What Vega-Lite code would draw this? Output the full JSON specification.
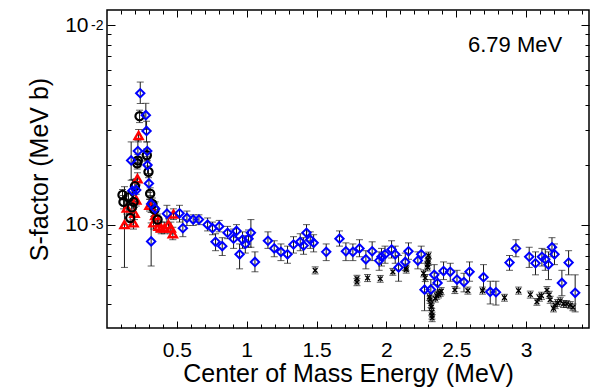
{
  "$schema": "https://vega.github.io/schema/vega-lite/v6.json",
  "width": 482,
  "height": 318,
  "autosize": {"type": "none"},
  "padding": {"left": 107, "top": 10, "right": 11, "bottom": 64},
  "background": "white",
  "config": {
    "view": {"stroke": "black", "strokeWidth": 1.5},
    "axis": {
      "grid": false, "domain": false,
      "labelFont": "Liberation Sans", "titleFont": "Liberation Sans",
      "labelColor": "black", "titleColor": "black", "tickColor": "black",
      "labelFontSize": 21, "titleFontSize": 25, "titleFontWeight": "normal",
      "tickWidth": 1
    }
  },
  "datasets": {
    "d": [
      {"s":"x","x":1.49,"y":5.9e-4,"lo":5.66e-4,"hi":6.14e-4},
      {"s":"x","x":1.789,"y":5.36e-4,"lo":5.15e-4,"hi":5.57e-4},
      {"s":"x","x":1.789,"y":5.15e-4,"lo":4.94e-4,"hi":5.36e-4},
      {"s":"x","x":1.865,"y":5.4e-4,"lo":5.18e-4,"hi":5.62e-4},
      {"s":"x","x":1.956,"y":5.35e-4,"lo":5.14e-4,"hi":5.56e-4},
      {"s":"x","x":2.046,"y":5.8e-4,"lo":5.57e-4,"hi":6.03e-4},
      {"s":"x","x":2.141,"y":6.1e-4,"lo":5.86e-4,"hi":6.34e-4},
      {"s":"x","x":2.142,"y":5.95e-4,"lo":5.71e-4,"hi":6.19e-4},
      {"s":"x","x":2.266,"y":5.7e-4,"lo":5.47e-4,"hi":5.93e-4},
      {"s":"x","x":2.278,"y":5.4e-4,"lo":5.18e-4,"hi":5.62e-4},
      {"s":"x","x":2.294,"y":6.3e-4,"lo":6.05e-4,"hi":6.55e-4},
      {"s":"x","x":2.297,"y":6.7e-4,"lo":6.43e-4,"hi":6.97e-4},
      {"s":"x","x":2.301,"y":7.0e-4,"lo":6.72e-4,"hi":7.28e-4},
      {"s":"x","x":2.299,"y":6.5e-4,"lo":6.24e-4,"hi":6.76e-4},
      {"s":"x","x":2.295,"y":6.1e-4,"lo":5.86e-4,"hi":6.34e-4},
      {"s":"x","x":2.308,"y":4.34e-4,"lo":4.17e-4,"hi":4.51e-4},
      {"s":"x","x":2.313,"y":4.2e-4,"lo":4.03e-4,"hi":4.37e-4},
      {"s":"x","x":2.319,"y":4.0e-4,"lo":3.84e-4,"hi":4.16e-4},
      {"s":"x","x":2.322,"y":3.86e-4,"lo":3.71e-4,"hi":4.01e-4},
      {"s":"x","x":2.324,"y":3.64e-4,"lo":3.49e-4,"hi":3.79e-4},
      {"s":"x","x":2.326,"y":3.5e-4,"lo":3.36e-4,"hi":3.64e-4},
      {"s":"x","x":2.327,"y":3.4e-4,"lo":3.26e-4,"hi":3.54e-4},
      {"s":"x","x":2.35,"y":4.26e-4,"lo":4.09e-4,"hi":4.43e-4},
      {"s":"x","x":2.36,"y":4.4e-4,"lo":4.22e-4,"hi":4.58e-4},
      {"s":"x","x":2.373,"y":4.47e-4,"lo":4.29e-4,"hi":4.65e-4},
      {"s":"x","x":2.385,"y":4.55e-4,"lo":4.37e-4,"hi":4.73e-4},
      {"s":"x","x":2.392,"y":4.64e-4,"lo":4.45e-4,"hi":4.83e-4},
      {"s":"x","x":2.49,"y":4.7e-4,"lo":4.51e-4,"hi":4.89e-4},
      {"s":"x","x":2.583,"y":4.67e-4,"lo":4.48e-4,"hi":4.86e-4},
      {"s":"x","x":2.688,"y":4.67e-4,"lo":4.48e-4,"hi":4.86e-4},
      {"s":"x","x":2.845,"y":4.3e-4,"lo":4.13e-4,"hi":4.47e-4},
      {"s":"x","x":2.946,"y":4.67e-4,"lo":4.48e-4,"hi":4.86e-4},
      {"s":"x","x":3.03,"y":4.46e-4,"lo":4.28e-4,"hi":4.64e-4},
      {"s":"x","x":3.077,"y":4.1e-4,"lo":3.94e-4,"hi":4.26e-4},
      {"s":"x","x":3.095,"y":4.3e-4,"lo":4.13e-4,"hi":4.47e-4},
      {"s":"x","x":3.11,"y":4.4e-4,"lo":4.22e-4,"hi":4.58e-4},
      {"s":"x","x":3.149,"y":4.7e-4,"lo":4.51e-4,"hi":4.89e-4},
      {"s":"x","x":3.165,"y":4.45e-4,"lo":4.27e-4,"hi":4.63e-4},
      {"s":"x","x":3.172,"y":4.2e-4,"lo":4.03e-4,"hi":4.37e-4},
      {"s":"x","x":3.196,"y":3.8e-4,"lo":3.65e-4,"hi":3.95e-4},
      {"s":"x","x":3.208,"y":3.95e-4,"lo":3.79e-4,"hi":4.11e-4},
      {"s":"x","x":3.225,"y":4.05e-4,"lo":3.89e-4,"hi":4.21e-4},
      {"s":"x","x":3.244,"y":4.15e-4,"lo":3.98e-4,"hi":4.32e-4},
      {"s":"x","x":3.268,"y":4.0e-4,"lo":3.84e-4,"hi":4.16e-4},
      {"s":"x","x":3.29,"y":4.0e-4,"lo":3.84e-4,"hi":4.16e-4},
      {"s":"x","x":3.316,"y":3.95e-4,"lo":3.79e-4,"hi":4.11e-4},
      {"s":"x","x":3.335,"y":3.85e-4,"lo":3.7e-4,"hi":4.0e-4},

      {"s":"r","x":0.125,"y":1.0e-3,"lo":6.1e-4,"hi":1.55e-3},
      {"s":"r","x":0.142,"y":1.21e-3,"lo":1.13e-3,"hi":1.3e-3},
      {"s":"r","x":0.19,"y":1.02e-3,"lo":9.5e-4,"hi":1.1e-3},
      {"s":"r","x":0.197,"y":1.14e-3,"lo":1.06e-3,"hi":1.22e-3},
      {"s":"r","x":0.209,"y":1.33e-3,"lo":1.24e-3,"hi":1.42e-3},
      {"s":"r","x":0.218,"y":1.7e-3,"lo":1.58e-3,"hi":1.82e-3},
      {"s":"r","x":0.226,"y":2.8e-3,"lo":2.6e-3,"hi":3.0e-3},
      {"s":"r","x":0.304,"y":1.25e-3,"lo":1.17e-3,"hi":1.34e-3},
      {"s":"r","x":0.333,"y":1.02e-3,"lo":9.5e-4,"hi":1.1e-3},
      {"s":"r","x":0.345,"y":1.11e-3,"lo":1.04e-3,"hi":1.19e-3},
      {"s":"r","x":0.369,"y":9.8e-4,"lo":9.2e-4,"hi":1.05e-3},
      {"s":"r","x":0.388,"y":9.6e-4,"lo":9.0e-4,"hi":1.03e-3},
      {"s":"r","x":0.412,"y":9.6e-4,"lo":9.0e-4,"hi":1.03e-3},
      {"s":"r","x":0.44,"y":1.0e-3,"lo":9.4e-4,"hi":1.07e-3},
      {"s":"r","x":0.457,"y":9.6e-4,"lo":9.0e-4,"hi":1.03e-3},
      {"s":"r","x":0.471,"y":9.0e-4,"lo":8.4e-4,"hi":9.7e-4},
      {"s":"r","x":0.476,"y":1.13e-3,"lo":1.06e-3,"hi":1.2e-3},

      {"s":"c","x":0.111,"y":1.41e-3,"lo":1.33e-3,"hi":1.5e-3},
      {"s":"c","x":0.118,"y":1.3e-3,"lo":1.2e-3,"hi":1.4e-3},
      {"s":"c","x":0.154,"y":1.37e-3,"lo":1.28e-3,"hi":1.46e-3},
      {"s":"c","x":0.166,"y":1.08e-3,"lo":1.0e-3,"hi":1.17e-3},
      {"s":"c","x":0.178,"y":1.22e-3,"lo":1.13e-3,"hi":1.31e-3},
      {"s":"c","x":0.19,"y":1.3e-3,"lo":1.2e-3,"hi":1.4e-3},
      {"s":"c","x":0.2,"y":1.56e-3,"lo":1.45e-3,"hi":1.68e-3},
      {"s":"c","x":0.216,"y":2.03e-3,"lo":1.9e-3,"hi":2.17e-3},
      {"s":"c","x":0.221,"y":2.1e-3,"lo":1.95e-3,"hi":2.25e-3},
      {"s":"c","x":0.233,"y":3.5e-3,"lo":3.25e-3,"hi":3.75e-3},
      {"s":"c","x":0.285,"y":2.23e-3,"lo":2.08e-3,"hi":2.4e-3},
      {"s":"c","x":0.297,"y":1.84e-3,"lo":1.72e-3,"hi":1.97e-3},
      {"s":"c","x":0.309,"y":1.43e-3,"lo":1.34e-3,"hi":1.53e-3},
      {"s":"c","x":0.324,"y":1.27e-3,"lo":1.19e-3,"hi":1.36e-3},
      {"s":"c","x":0.34,"y":1.19e-3,"lo":1.11e-3,"hi":1.27e-3},
      {"s":"c","x":0.362,"y":1.06e-3,"lo":9.9e-4,"hi":1.13e-3},

      {"s":"b","x":0.173,"y":2.1e-3,"lo":1.67e-3,"hi":2.6e-3},
      {"s":"b","x":0.182,"y":1.48e-3,"lo":1.3e-3,"hi":1.68e-3},
      {"s":"b","x":0.209,"y":1.49e-3,"lo":1.3e-3,"hi":1.7e-3},
      {"s":"b","x":0.221,"y":2.34e-3,"lo":2.05e-3,"hi":2.65e-3},
      {"s":"b","x":0.238,"y":4.56e-3,"lo":4.05e-3,"hi":5.19e-3},
      {"s":"b","x":0.278,"y":3.54e-3,"lo":3.0e-3,"hi":4.06e-3},
      {"s":"b","x":0.283,"y":2.95e-3,"lo":2.6e-3,"hi":3.3e-3},
      {"s":"b","x":0.288,"y":2.34e-3,"lo":2.1e-3,"hi":2.6e-3},
      {"s":"b","x":0.29,"y":1.99e-3,"lo":1.8e-3,"hi":2.2e-3},
      {"s":"b","x":0.3,"y":1.61e-3,"lo":1.45e-3,"hi":1.8e-3},
      {"s":"b","x":0.316,"y":1.27e-3,"lo":1.15e-3,"hi":1.4e-3},
      {"s":"b","x":0.316,"y":8.24e-4,"lo":6.2e-4,"hi":1.02e-3},
      {"s":"b","x":0.345,"y":1.2e-3,"lo":1.1e-3,"hi":1.3e-3},
      {"s":"b","x":0.429,"y":1.135e-3,"lo":1.02e-3,"hi":1.25e-3},
      {"s":"b","x":0.519,"y":1.14e-3,"lo":1.03e-3,"hi":1.25e-3},
      {"s":"b","x":0.543,"y":9.6e-4,"lo":8.7e-4,"hi":1.06e-3},
      {"s":"b","x":0.572,"y":1.08e-3,"lo":9.9e-4,"hi":1.17e-3},
      {"s":"b","x":0.617,"y":1.06e-3,"lo":9.9e-4,"hi":1.12e-3},
      {"s":"b","x":0.658,"y":1.06e-3,"lo":1.0e-3,"hi":1.12e-3},
      {"s":"b","x":0.72,"y":1.0e-3,"lo":9.3e-4,"hi":1.08e-3},
      {"s":"b","x":0.755,"y":9.6e-4,"lo":8.9e-4,"hi":1.03e-3},
      {"s":"b","x":0.777,"y":8.2e-4,"lo":7.4e-4,"hi":9.0e-4},
      {"s":"b","x":0.803,"y":9.8e-4,"lo":9.2e-4,"hi":1.05e-3},
      {"s":"b","x":0.825,"y":7.8e-4,"lo":7.0e-4,"hi":8.6e-4},
      {"s":"b","x":0.863,"y":9.1e-4,"lo":8.5e-4,"hi":9.8e-4},
      {"s":"b","x":0.906,"y":8.5e-4,"lo":7.6e-4,"hi":9.5e-4},
      {"s":"b","x":0.927,"y":9.3e-4,"lo":8.6e-4,"hi":1.0e-3},
      {"s":"b","x":0.949,"y":7.1e-4,"lo":6.0e-4,"hi":8.0e-4},
      {"s":"b","x":0.97,"y":8.4e-4,"lo":7.6e-4,"hi":9.2e-4},
      {"s":"b","x":0.99,"y":8.0e-4,"lo":7.2e-4,"hi":8.8e-4},
      {"s":"b","x":1.013,"y":8.5e-4,"lo":7.7e-4,"hi":9.4e-4},
      {"s":"b","x":1.03,"y":9.1e-4,"lo":7.7e-4,"hi":1.06e-3},
      {"s":"b","x":1.059,"y":6.5e-4,"lo":5.8e-4,"hi":7.3e-4},
      {"s":"b","x":1.152,"y":8.3e-4,"lo":7.6e-4,"hi":9.2e-4},
      {"s":"b","x":1.197,"y":7.6e-4,"lo":6.9e-4,"hi":8.3e-4},
      {"s":"b","x":1.245,"y":7.3e-4,"lo":6.6e-4,"hi":8.0e-4},
      {"s":"b","x":1.292,"y":7.1e-4,"lo":6.4e-4,"hi":7.8e-4},
      {"s":"b","x":1.335,"y":7.95e-4,"lo":7.2e-4,"hi":8.7e-4},
      {"s":"b","x":1.383,"y":8.2e-4,"lo":7.4e-4,"hi":9.0e-4},
      {"s":"b","x":1.407,"y":7.85e-4,"lo":7.1e-4,"hi":8.6e-4},
      {"s":"b","x":1.428,"y":9.1e-4,"lo":8.3e-4,"hi":1.0e-3},
      {"s":"b","x":1.455,"y":8.4e-4,"lo":7.6e-4,"hi":9.2e-4},
      {"s":"b","x":1.479,"y":8.1e-4,"lo":7.3e-4,"hi":8.9e-4},
      {"s":"b","x":1.569,"y":7.3e-4,"lo":6.6e-4,"hi":8.0e-4},
      {"s":"b","x":1.664,"y":8.5e-4,"lo":7.8e-4,"hi":9.3e-4},
      {"s":"b","x":1.71,"y":7.35e-4,"lo":6.6e-4,"hi":8.1e-4},
      {"s":"b","x":1.76,"y":7.3e-4,"lo":6.6e-4,"hi":8.0e-4},
      {"s":"b","x":1.807,"y":7.6e-4,"lo":6.9e-4,"hi":8.4e-4},
      {"s":"b","x":1.853,"y":6.7e-4,"lo":6.0e-4,"hi":7.4e-4},
      {"s":"b","x":1.898,"y":7.35e-4,"lo":6.6e-4,"hi":8.2e-4},
      {"s":"b","x":1.948,"y":6.6e-4,"lo":5.9e-4,"hi":7.3e-4},
      {"s":"b","x":1.965,"y":6.9e-4,"lo":6.2e-4,"hi":7.6e-4},
      {"s":"b","x":1.99,"y":7.1e-4,"lo":6.4e-4,"hi":7.8e-4},
      {"s":"b","x":2.037,"y":7.5e-4,"lo":6.8e-4,"hi":8.3e-4},
      {"s":"b","x":2.063,"y":7.1e-4,"lo":6.4e-4,"hi":7.8e-4},
      {"s":"b","x":2.087,"y":6.1e-4,"lo":5.2e-4,"hi":7.0e-4},
      {"s":"b","x":2.135,"y":6.5e-4,"lo":5.9e-4,"hi":7.2e-4},
      {"s":"b","x":2.158,"y":7.35e-4,"lo":6.7e-4,"hi":8.1e-4},
      {"s":"b","x":2.225,"y":6.6e-4,"lo":6.0e-4,"hi":7.3e-4},
      {"s":"b","x":2.249,"y":7.1e-4,"lo":6.4e-4,"hi":7.8e-4},
      {"s":"b","x":2.273,"y":4.72e-4,"lo":3.7e-4,"hi":5.6e-4},
      {"s":"b","x":2.318,"y":4.73e-4,"lo":4.2e-4,"hi":5.3e-4},
      {"s":"b","x":2.342,"y":5.6e-4,"lo":5.0e-4,"hi":6.3e-4},
      {"s":"b","x":2.366,"y":5.1e-4,"lo":4.6e-4,"hi":5.7e-4},
      {"s":"b","x":2.409,"y":5.85e-4,"lo":5.3e-4,"hi":6.5e-4},
      {"s":"b","x":2.457,"y":5.8e-4,"lo":5.2e-4,"hi":6.4e-4},
      {"s":"b","x":2.505,"y":5.3e-4,"lo":4.8e-4,"hi":5.9e-4},
      {"s":"b","x":2.555,"y":5.15e-4,"lo":4.6e-4,"hi":5.7e-4},
      {"s":"b","x":2.595,"y":5.8e-4,"lo":5.2e-4,"hi":6.5e-4},
      {"s":"b","x":2.695,"y":5.45e-4,"lo":4.7e-4,"hi":6.3e-4},
      {"s":"b","x":2.743,"y":4.6e-4,"lo":4.0e-4,"hi":5.2e-4},
      {"s":"b","x":2.784,"y":4.58e-4,"lo":3.95e-4,"hi":5.2e-4},
      {"s":"b","x":2.881,"y":6.45e-4,"lo":5.9e-4,"hi":7.0e-4},
      {"s":"b","x":2.927,"y":7.6e-4,"lo":6.9e-4,"hi":8.4e-4},
      {"s":"b","x":3.022,"y":6.9e-4,"lo":6.1e-4,"hi":7.7e-4},
      {"s":"b","x":3.067,"y":6.4e-4,"lo":5.6e-4,"hi":7.3e-4},
      {"s":"b","x":3.113,"y":6.9e-4,"lo":6.2e-4,"hi":7.6e-4},
      {"s":"b","x":3.137,"y":6.7e-4,"lo":5.9e-4,"hi":7.5e-4},
      {"s":"b","x":3.16,"y":6.3e-4,"lo":5.3e-4,"hi":7.3e-4},
      {"s":"b","x":3.185,"y":7.7e-4,"lo":6.9e-4,"hi":8.6e-4},
      {"s":"b","x":3.203,"y":7.1e-4,"lo":6.3e-4,"hi":8.0e-4},
      {"s":"b","x":3.256,"y":5.1e-4,"lo":4.4e-4,"hi":5.9e-4},
      {"s":"b","x":3.304,"y":6.45e-4,"lo":5.6e-4,"hi":7.4e-4},
      {"s":"b","x":3.351,"y":4.55e-4,"lo":3.65e-4,"hi":5.6e-4}
    ],
    "note": [{"x": 3.258, "y": 0.00734, "t": "6.79 MeV"}]
  },
  "resolve": {"axis": {"x": "independent", "y": "independent"}},
  "layer": [
    {
      "data": {"name": "d"},
      "mark": {"type": "rule", "strokeWidth": 1, "color": "#1a1a1a"},
      "encoding": {
        "x": {"field": "x", "type": "quantitative",
              "scale": {"domain": [0, 3.45], "nice": false, "zero": false},
              "axis": {"orient": "bottom", "values": [0.5, 1, 1.5, 2, 2.5, 3], "ticks": false,
                       "labelPadding": 11, "labelFlush": false, "labelExpr": "format(datum.value, '')",
                       "title": "Center of Mass Energy (MeV)", "titlePadding": 1}},
        "y": {"field": "lo", "type": "quantitative",
              "scale": {"type": "log", "domain": [0.000303, 0.01193], "nice": false},
              "axis": {"orient": "left", "values": [0.001, 0.01], "ticks": false, "labelPadding": 19,
                       "labelFlush": false, "labelExpr": "'10'",
                       "title": "S-factor (MeV b)", "titlePadding": 12}},
        "y2": {"field": "hi"}
      }
    },
    {
      "data": {"name": "d"},
      "mark": {"type": "tick", "orient": "horizontal", "size": 7, "thickness": 1, "color": "#1a1a1a"},
      "encoding": {
        "x": {"field": "x", "type": "quantitative",
              "scale": {"domain": [0, 3.45], "nice": false, "zero": false},
              "axis": {"orient": "bottom", "values": [0.5, 1, 1.5, 2, 2.5, 3], "labels": false,
                       "tickSize": -7, "title": null}},
        "y": {"field": "lo", "type": "quantitative",
              "scale": {"type": "log", "domain": [0.000303, 0.01193], "nice": false},
              "axis": {"orient": "left", "values": [0.001, 0.01], "labels": false, "tickSize": -8, "title": null}}
      }
    },
    {
      "data": {"name": "d"},
      "mark": {"type": "tick", "orient": "horizontal", "size": 7, "thickness": 1, "color": "#1a1a1a"},
      "encoding": {
        "x": {"field": "x", "type": "quantitative",
              "scale": {"domain": [0, 3.45], "nice": false, "zero": false},
              "axis": {"orient": "bottom",
                       "values": [0.1,0.2,0.3,0.4,0.6,0.7,0.8,0.9,1.1,1.2,1.3,1.4,1.6,1.7,1.8,1.9,2.1,2.2,2.3,2.4,2.6,2.7,2.8,2.9,3.1,3.2,3.3,3.4],
                       "labels": false, "tickSize": -4, "title": null}},
        "y": {"field": "hi", "type": "quantitative",
              "scale": {"type": "log", "domain": [0.000303, 0.01193], "nice": false},
              "axis": {"orient": "left",
                       "values": [0.0004,0.0005,0.0006,0.0007,0.0008,0.0009,0.002,0.003,0.004,0.005,0.006,0.007,0.008,0.009],
                       "labels": false, "tickSize": -4, "title": null}}
      }
    },
    {
      "data": {"name": "d"},
      "transform": [{"filter": "datum.s == 'x'"}],
      "mark": {"type": "point", "filled": false, "opacity": 1, "shape": "M-1,-1L1,1M1,-1L-1,1",
               "stroke": "black", "strokeWidth": 1.4, "size": 22},
      "encoding": {
        "x": {"field": "x", "type": "quantitative",
              "scale": {"domain": [0, 3.45], "nice": false, "zero": false},
              "axis": {"orient": "top", "values": [0.5, 1, 1.5, 2, 2.5, 3], "labels": false,
                       "tickSize": -7, "title": null}},
        "y": {"field": "y", "type": "quantitative",
              "scale": {"type": "log", "domain": [0.000303, 0.01193], "nice": false},
              "axis": {"orient": "right", "values": [0.001, 0.01], "labels": false, "tickSize": -8, "title": null}}
      }
    },
    {
      "data": {"name": "d"},
      "transform": [{"filter": "datum.s != 'x'"}],
      "mark": {"type": "point", "filled": false, "opacity": 1},
      "encoding": {
        "x": {"field": "x", "type": "quantitative",
              "scale": {"domain": [0, 3.45], "nice": false, "zero": false},
              "axis": {"orient": "top",
                       "values": [0.1,0.2,0.3,0.4,0.6,0.7,0.8,0.9,1.1,1.2,1.3,1.4,1.6,1.7,1.8,1.9,2.1,2.2,2.3,2.4,2.6,2.7,2.8,2.9,3.1,3.2,3.3,3.4],
                       "labels": false, "tickSize": -4, "title": null}},
        "y": {"field": "y", "type": "quantitative",
              "scale": {"type": "log", "domain": [0.000303, 0.01193], "nice": false},
              "axis": {"orient": "right",
                       "values": [0.0004,0.0005,0.0006,0.0007,0.0008,0.0009,0.002,0.003,0.004,0.005,0.006,0.007,0.008,0.009],
                       "labels": false, "tickSize": -4, "title": null}},
        "shape": {"field": "s", "type": "nominal", "legend": null,
                  "scale": {"domain": ["b", "c", "r"], "range": ["diamond", "circle", "triangle-up"]}},
        "stroke": {"field": "s", "type": "nominal", "legend": null,
                   "scale": {"domain": ["b", "c", "r"], "range": ["#0000ff", "#000000", "#ff0000"]}},
        "size": {"field": "s", "type": "nominal", "legend": null,
                 "scale": {"domain": ["b", "c", "r"], "range": [70, 65, 60]}},
        "strokeWidth": {"field": "s", "type": "nominal", "legend": null,
                        "scale": {"domain": ["b", "c", "r"], "range": [2, 2.4, 1.6]}}
      }
    },
    {
      "data": {"name": "note"},
      "mark": {"type": "text", "align": "right", "baseline": "alphabetic", "font": "Liberation Sans",
               "fontSize": 22, "color": "black"},
      "encoding": {
        "x": {"field": "x", "type": "quantitative",
              "scale": {"domain": [0, 3.45], "nice": false, "zero": false},
              "axis": null},
        "y": {"field": "y", "type": "quantitative",
              "scale": {"type": "log", "domain": [0.000303, 0.01193], "nice": false},
              "axis": {"orient": "left", "values": [0.001, 0.01], "ticks": false, "labelPadding": 4,
                       "labelFlush": false, "labelFontSize": 14, "labelDy": -8,
                       "labelExpr": "datum.value < 0.005 ? '-3' : '-2'", "title": null}},
        "text": {"field": "t", "type": "nominal"}
      }
    }
  ]
}
